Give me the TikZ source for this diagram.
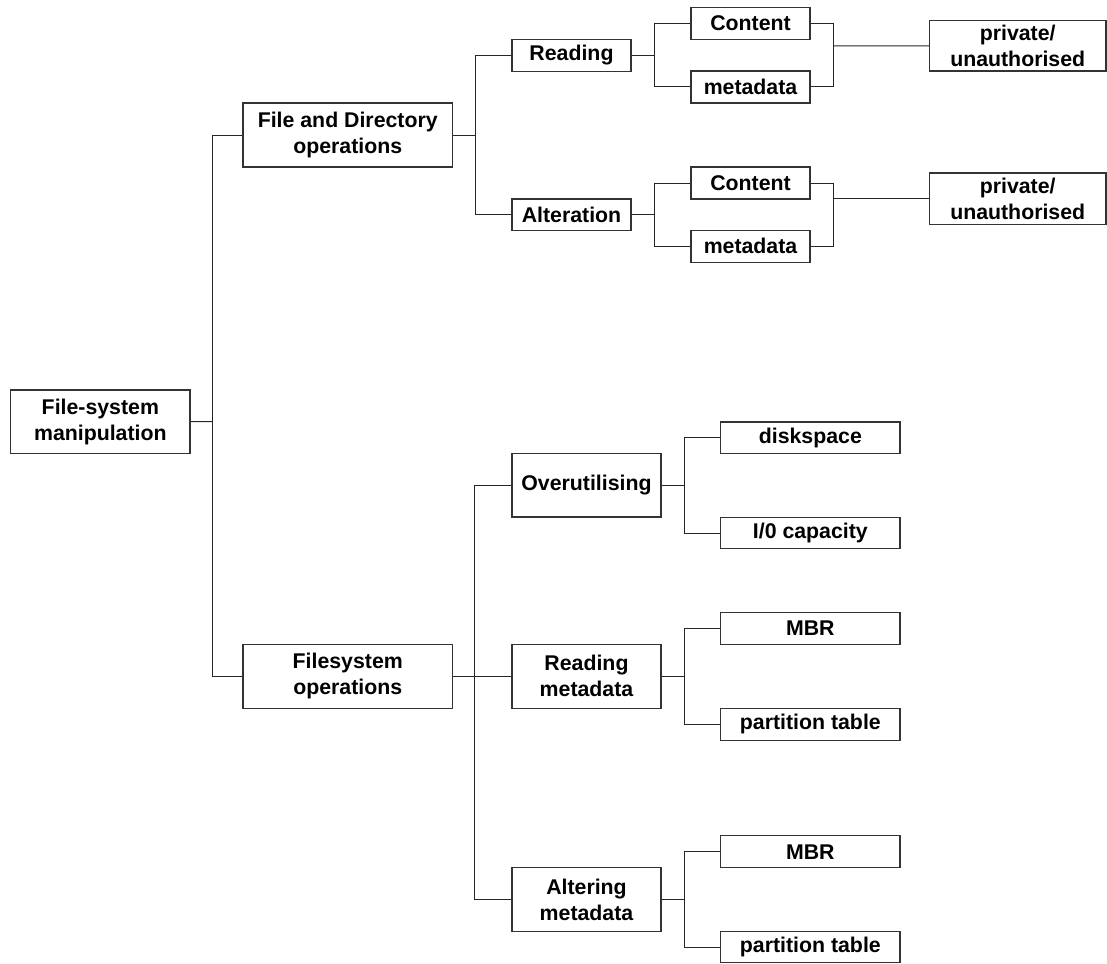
\documentclass[tikz,border=0pt]{standalone}
\usepackage{fontspec}
\setmainfont{Liberation Sans}
\begin{document}
\begin{tikzpicture}[x=1pt,y=-1pt,
  box/.style={draw=black!80,line width=1.1pt,inner sep=0pt,align=center,
    font=\bfseries\fontsize{21.3}{26}\selectfont},
  link/.style={draw=black!85,line width=1pt}]
\useasboundingbox (0,0) rectangle (1107,963);
% box: name, left, top, right, bottom, label
\newcommand\treebox[6]{%
  \node[box,minimum width={#4-#2},minimum height={#5-#3}] (#1)
    at ({(#2+#4)/2},{(#3+#5)/2}) {#6};}
% root and first level
\treebox{fsm}{10.7}{390}{190}{453.3}{File-system\\manipulation}
\treebox{fdo}{243}{103}{452.5}{167}{File and Directory\\operations}
\treebox{fso}{243}{644.3}{452.5}{708.3}{Filesystem\\operations}
% file and directory branch
\treebox{rd}{512}{39.3}{631}{71.3}{Reading}
\treebox{alt}{512}{199}{631}{230.3}{Alteration}
\treebox{c1}{691}{7.3}{810}{39.3}{Content}
\treebox{m1}{691}{71}{810}{103}{metadata}
\treebox{p1}{929.4}{20.7}{1106}{71}{private/\\unauthorised}
\treebox{c2}{691}{167}{810}{199}{Content}
\treebox{m2}{691}{230.3}{810}{262.3}{metadata}
\treebox{p2}{929.4}{173}{1106}{224.3}{private/\\unauthorised}
% filesystem branch
\treebox{ovu}{512}{453.3}{661}{517}{Overutilising}
\treebox{dsk}{720.7}{422}{900}{453.3}{diskspace}
\treebox{io}{720.7}{517.3}{900}{548.7}{I/0 capacity}
\treebox{rmd}{512}{644.3}{661}{708.3}{Reading\\metadata}
\treebox{mbr1}{720.7}{612.7}{900}{644.3}{MBR}
\treebox{pt1}{720.7}{708.3}{900}{740.3}{partition table}
\treebox{amd}{512}{867.7}{661}{931.3}{Altering\\metadata}
\treebox{mbr2}{720.7}{835.7}{900}{867.7}{MBR}
\treebox{pt2}{720.7}{931.7}{900}{962.7}{partition table}
% junction points
\coordinate (t1) at (212.5,421.7);
\coordinate (t2) at (474.5,676.3);
\coordinate (k1) at (833,45.85);
\coordinate (k2) at (833,198.65);
% root connectors
\draw[link] (fsm.east) -- (t1);
\draw[link] (fdo.west) -| (t1);
\draw[link] (fso.west) -| (t1);
% file and directory connectors
\draw[link] (fdo.east) -- ++(22,0) coordinate (j0);
\draw[link] (j0) |- (rd.west);
\draw[link] (j0) |- (alt.west);
\draw[link] (rd.east) -- ++(23,0) coordinate (j1);
\draw[link] (j1) |- (c1.west);
\draw[link] (j1) |- (m1.west);
\draw[link] (alt.east) -- ++(23,0) coordinate (j2);
\draw[link] (j2) |- (c2.west);
\draw[link] (j2) |- (m2.west);
\draw[link] (c1.east) -| (k1);
\draw[link] (m1.east) -| (k1);
\draw[link] (k1) -- (p1.west);
\draw[link] (c2.east) -| (k2);
\draw[link] (m2.east) -| (k2);
\draw[link] (k2) -- (p2.west);
% filesystem connectors
\draw[link] (fso.east) -- (t2);
\draw[link] (ovu.west) -| (t2);
\draw[link] (rmd.west) -- (t2);
\draw[link] (amd.west) -| (t2);
\draw[link] (ovu.east) -- ++(22.7,0) coordinate (j3);
\draw[link] (j3) |- (dsk.west);
\draw[link] (j3) |- (io.west);
\draw[link] (rmd.east) -- ++(22.7,0) coordinate (j4);
\draw[link] (j4) |- (mbr1.west);
\draw[link] (j4) |- (pt1.west);
\draw[link] (amd.east) -- ++(22.7,0) coordinate (j5);
\draw[link] (j5) |- (mbr2.west);
\draw[link] (j5) |- (pt2.west);
\end{tikzpicture}
\end{document}
